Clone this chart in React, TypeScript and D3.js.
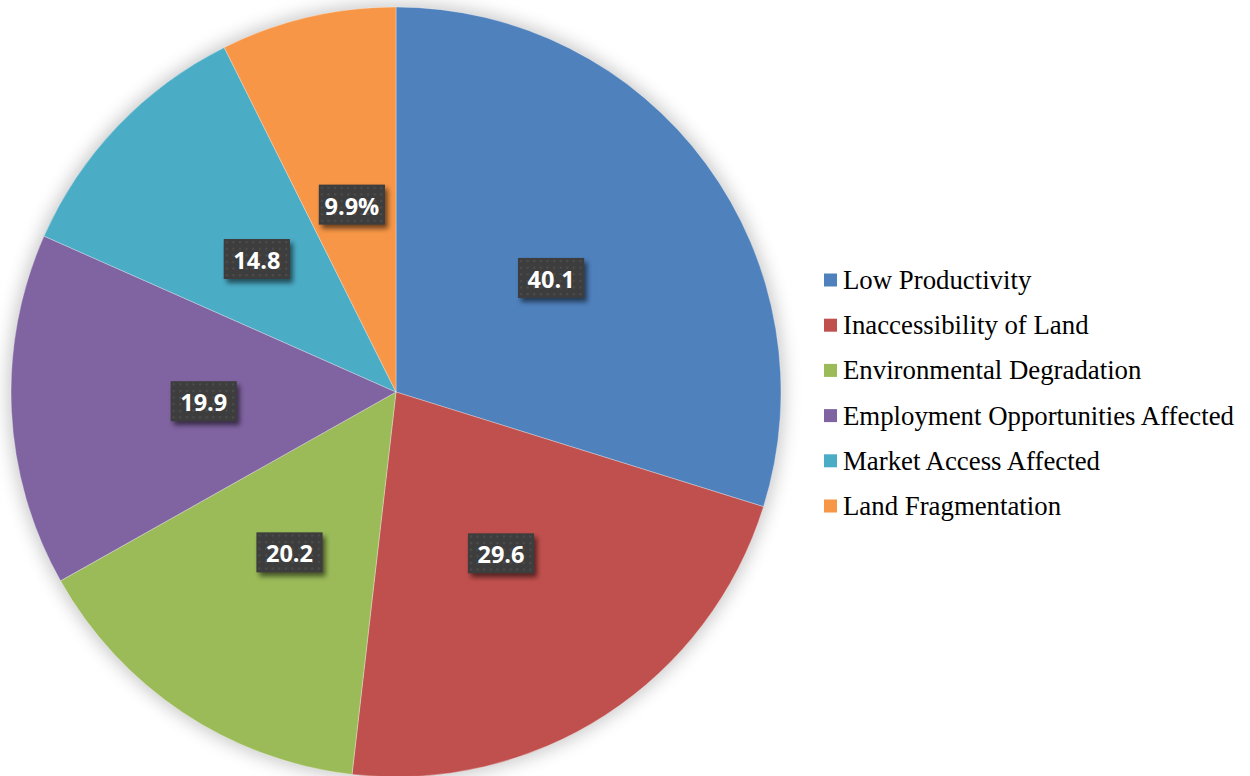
import React from "react";
import * as d3 from "d3";

const categories = [
  "Low Productivity",
  "Inaccessibility of Land",
  "Environmental Degradation",
  "Employment Opportunities Affected",
  "Market Access Affected",
  "Land Fragmentation",
];
const values = [40.1, 29.6, 20.2, 19.9, 14.8, 9.9];
const labelTexts = ["40.1", "29.6", "20.2", "19.9", "14.8", "9.9%"];
const colors = ["#4F81BD", "#C0504D", "#9BBB59", "#8064A2", "#4BACC6", "#F79646"];

const W = 1250;
const H = 776;
const CX = 396;
const CY = 392;
const R = 385;

export default function App() {
  const pie = d3
    .pie<number>()
    .sort(null)
    .value((d) => d)
    .startAngle(0)
    .endAngle(2 * Math.PI);
  const arcs = pie(values);
  const arc = d3.arc<d3.PieArcDatum<number>>().innerRadius(0).outerRadius(R);
  const labelArc = d3
    .arc<d3.PieArcDatum<number>>()
    .innerRadius(R * 0.5)
    .outerRadius(R * 0.5);

  const legendY = d3
    .scalePoint<string>()
    .domain(categories)
    .range([280, 506]);

  const measure = (t: string) => t.length * 12.8 + 15;

  return (
    <svg
      width={W}
      height={H}
      style={{ position: "absolute", left: 0, top: 0, display: "block" }}
    >
      <defs>
        <filter id="pieShadow" x="-20%" y="-20%" width="140%" height="140%">
          <feGaussianBlur stdDeviation="9" />
        </filter>
        <filter id="boxShadow" x="-30%" y="-30%" width="160%" height="160%">
          <feGaussianBlur stdDeviation="2.5" />
        </filter>
        <pattern id="dots" width="6.6" height="6.6" patternUnits="userSpaceOnUse">
          <rect width="6.6" height="6.6" fill="#3d3d3d" />
          <rect x="2" y="2" width="2" height="2" fill="#4e4e4e" />
        </pattern>
      </defs>
      <rect width={W} height={H} fill="#ffffff" />
      <circle
        cx={CX}
        cy={CY}
        r={R + 3}
        fill="#000"
        opacity={0.22}
        filter="url(#pieShadow)"
      />
      <g transform={`translate(${CX},${CY})`}>
        {arcs.map((a, i) => (
          <path
            key={i}
            d={arc(a) || ""}
            fill={colors[i]}
            stroke="#ffffff"
            strokeOpacity={0.4}
            strokeWidth={0.8}
          />
        ))}
        {arcs.map((a, i) => {
          const [x, y] = labelArc.centroid(a);
          const w = measure(labelTexts[i]);
          const h = 40;
          return (
            <g key={"l" + i} transform={`translate(${x},${y})`}>
              <rect
                x={-w / 2 + 3}
                y={-h / 2 + 4}
                width={w}
                height={h}
                fill="#000"
                opacity={0.55}
                filter="url(#boxShadow)"
              />
              <rect x={-w / 2} y={-h / 2} width={w} height={h} fill="url(#dots)" />
              <text
                x={0}
                y={1}
                textAnchor="middle"
                dominantBaseline="central"
                fill="#ffffff"
                fontFamily="'Open Sans', sans-serif"
                fontWeight="bold"
                fontSize={23.5}
              >
                {labelTexts[i]}
              </text>
            </g>
          );
        })}
      </g>
      <g>
        {categories.map((c, i) => {
          const y = legendY(c) as number;
          return (
            <g key={c}>
              <rect x={824} y={y - 6.5} width={13} height={13} fill={colors[i]} />
              <text
                x={843}
                y={y + 9}
                fontFamily="'Liberation Serif', 'Times New Roman', serif"
                fontSize={26.8}
                fill="#000"
              >
                {c}
              </text>
            </g>
          );
        })}
      </g>
    </svg>
  );
}
